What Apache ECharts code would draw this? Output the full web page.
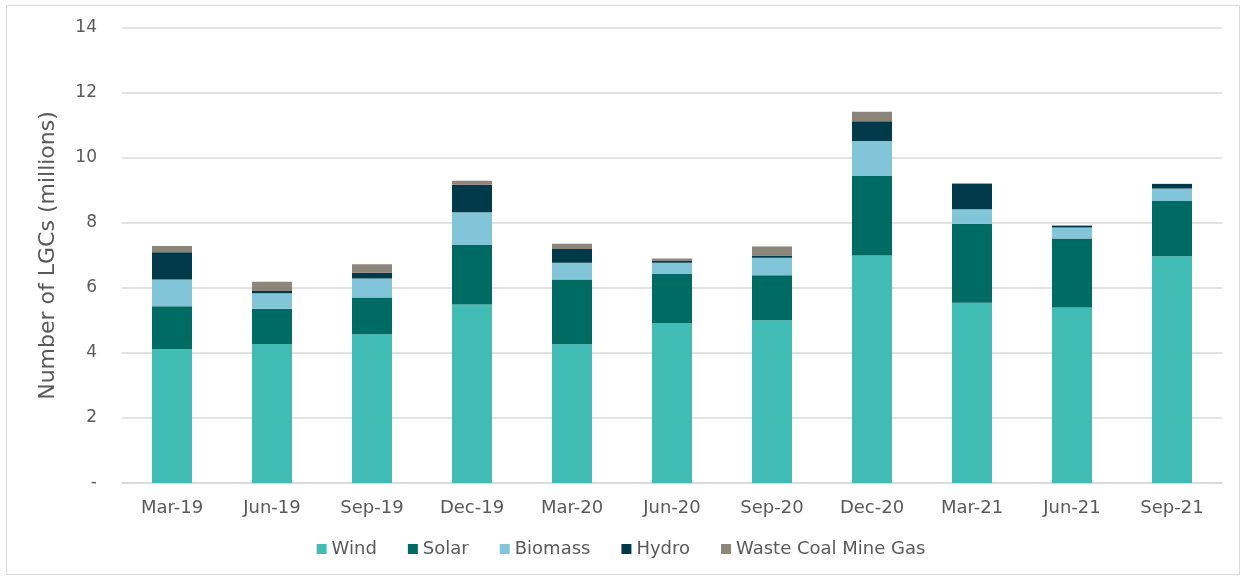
<!DOCTYPE html>
<html>
<head>
<meta charset="utf-8">
<script src="https://cdn.jsdelivr.net/npm/echarts@6/dist/echarts.min.js"></script>
<style>
  html, body { margin: 0; padding: 0; background: #fff; }
  #frame { position: absolute; left: 6px; top: 5px; width: 1232px; height: 568px; border: 1px solid #d9d9d9; }
  #chart { position: absolute; left: 0; top: 0; width: 1242px; height: 578px; }
</style>
</head>
<body>
<div id="frame"></div>
<div id="chart"></div>
<script>
const categories = ['Mar-19', 'Jun-19', 'Sep-19', 'Dec-19', 'Mar-20', 'Jun-20', 'Sep-20', 'Dec-20', 'Mar-21', 'Jun-21', 'Sep-21'];
const wind    = [4.12, 4.28, 4.58, 5.49, 4.27, 4.92, 5.01, 7.00, 5.55, 5.40, 6.98];
const solar   = [1.32, 1.08, 1.13, 1.83, 1.99, 1.51, 1.38, 2.45, 2.43, 2.12, 1.70];
const biomass = [0.82, 0.48, 0.58, 1.01, 0.52, 0.35, 0.54, 1.07, 0.44, 0.34, 0.38];
const hydro   = [0.84, 0.07, 0.18, 0.85, 0.42, 0.07, 0.07, 0.61, 0.78, 0.05, 0.14];
const waste   = [0.19, 0.28, 0.26, 0.12, 0.16, 0.06, 0.28, 0.29, 0.02, 0.02, 0.01];
const yTicks  = [0, 2, 4, 6, 8, 10, 12, 14];

const font = 'DejaVu Sans, Verdana, sans-serif';
const txt = '#595959';

const chart = echarts.init(document.getElementById('chart'));

// one stacked bar series per source
const mk = function(name, data, color) {
    return {
        name: name,
        type: 'bar',
        stack: 'total',
        barWidth: 40,
        data: data,
        itemStyle: { color: color },
        emphasis: { disabled: true }
    };
};

const option = {
    animation: false,
    textStyle: { fontFamily: font },
    grid: { left: 122, right: 20, top: 28, bottom: 95 },
    legend: {
        bottom: 15,
        left: 'center',
        itemWidth: 10,
        itemHeight: 10,
        itemGap: 31,
        icon: 'rect',
        textStyle: { color: txt, fontSize: 18, fontFamily: font },
        data: ['Wind', 'Solar', 'Biomass', 'Hydro', 'Waste Coal Mine Gas']
    },
    xAxis: {
        type: 'category',
        data: categories,
        axisLine: { lineStyle: { color: '#d9d9d9', width: 1.5 } },
        axisTick: { show: false },
        axisLabel: { color: txt, fontSize: 18, margin: 16, fontFamily: font }
    },
    yAxis: {
        type: 'value',
        min: yTicks[0],
        max: yTicks[yTicks.length - 1],
        interval: 2,
        name: 'Number of LGCs (millions)',
        nameLocation: 'middle',
        nameGap: 63,
        nameTextStyle: { color: txt, fontSize: 22, fontFamily: font },
        axisLine: { show: false },
        axisTick: { show: false },
        splitLine: { lineStyle: { color: '#d9d9d9', width: 1.5 } },
        axisLabel: {
            color: txt,
            fontSize: 17,
            margin: 25,
            fontFamily: font,
            formatter: function(v) { return v === 0 ? '-' : String(v); }
        }
    },
    series: [
        mk('Wind', wind, '#42BDB5'),
        mk('Solar', solar, '#006B63'),
        mk('Biomass', biomass, '#82C4D8'),
        mk('Hydro', hydro, '#003A4A'),
        mk('Waste Coal Mine Gas', waste, '#8B857A')
    ]
};
chart.setOption(option);
</script>
</body>
</html>
